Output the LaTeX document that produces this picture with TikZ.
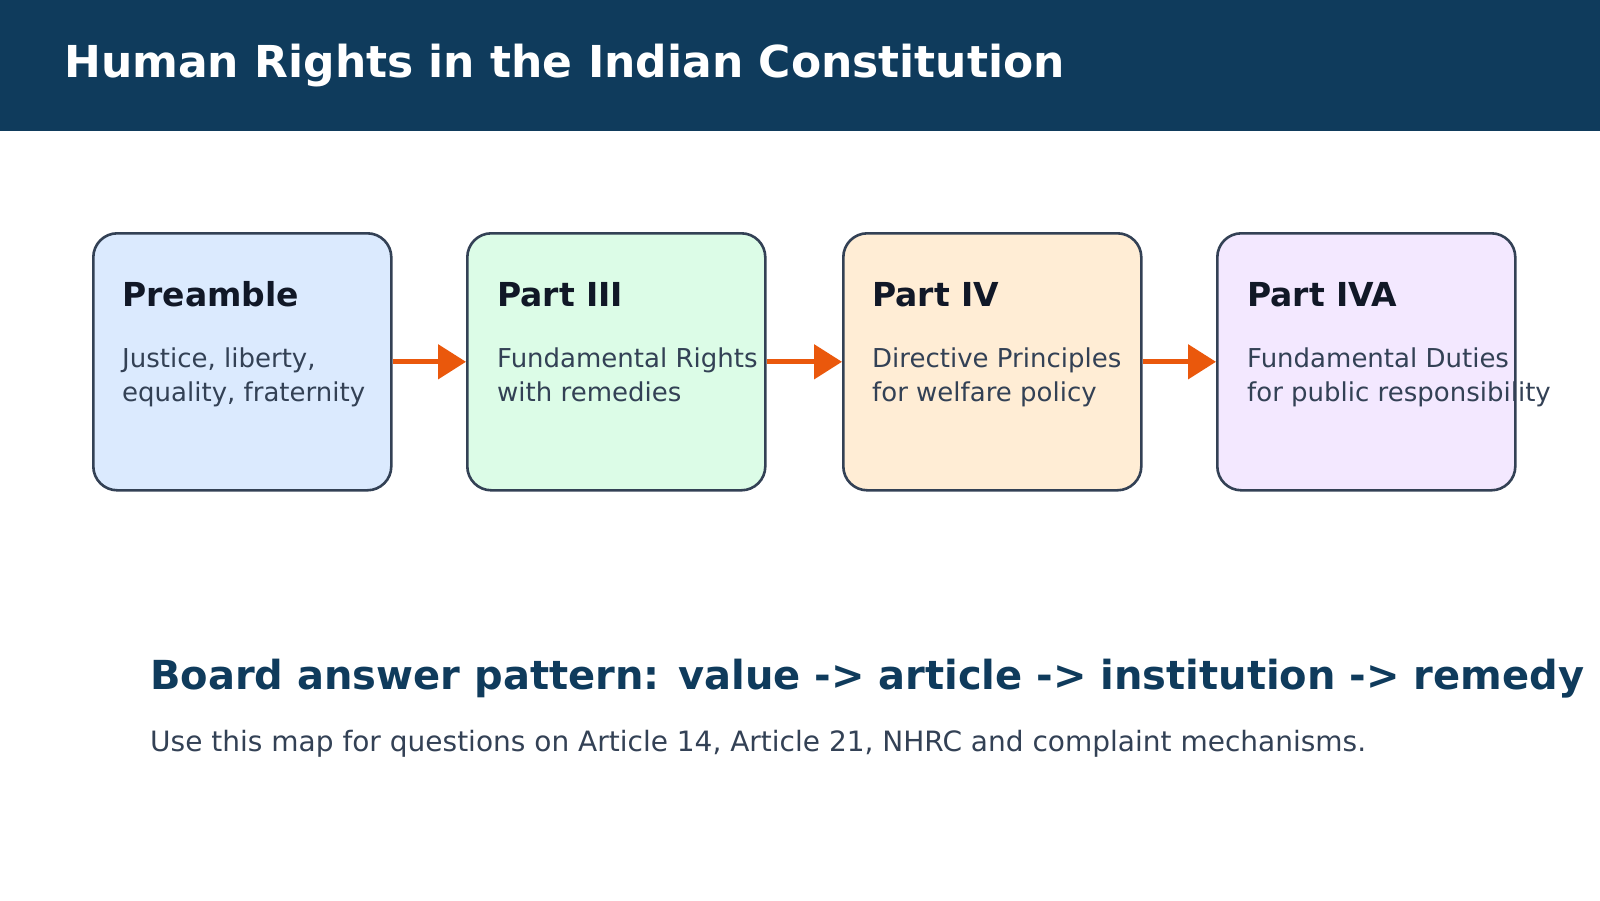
\documentclass[tikz,border=0pt]{standalone}
\usepackage{fontspec}
\setmainfont{DejaVu Sans}
\usetikzlibrary{arrows.meta}
\definecolor{hdr}{HTML}{0F3B5C}
\definecolor{brd}{HTML}{334155}
\definecolor{ttl}{HTML}{111827}
\definecolor{org}{HTML}{EA580C}
\definecolor{f1}{HTML}{DBEAFE}
\definecolor{f2}{HTML}{DCFCE7}
\definecolor{f3}{HTML}{FFEDD5}
\definecolor{f4}{HTML}{F3E8FF}
\begin{document}
\begin{tikzpicture}[x=1pt,y=-1pt,
 box/.style={draw=brd,line width=2.6pt,rounded corners=24pt,minimum width=298pt,minimum height=257pt,anchor=north west,inner sep=0pt},
 bt/.style={anchor=base west,font=\bfseries\fontsize{33}{40}\selectfont,text=ttl,inner sep=0pt},
 bb/.style={anchor=base west,font=\fontsize{26}{34}\selectfont,text=brd,inner sep=0pt,align=left},
 arr/.style={draw=org,line width=5pt,-{Triangle[length=28pt,width=34pt]}}]
\useasboundingbox[clip] (0,0) rectangle (1600,900);
\fill[white] (0,0) rectangle (1600,900);
\fill[hdr] (0,0) rectangle (1600,131);
\node[anchor=base west,inner sep=0pt,text=white,font=\bfseries\fontsize{44}{50}\selectfont] (h) at (64,77) {Human Rights in the Indian Constitution};
\node[box,fill=f1] (b1) at (92,232) {};
\node[box,fill=f2] (b2) at (466,232) {};
\node[box,fill=f3] (b3) at (842,232) {};
\node[box,fill=f4] (b4) at (1216,232) {};
\foreach \b/\x/\t/\l/\m in {1/122/Preamble/{Justice, liberty,}/{equality, fraternity},2/497/Part III/Fundamental Rights/with remedies,3/872/Part IV/Directive Principles/for welfare policy,4/1247/Part IVA/Fundamental Duties/for public responsibility}{
 \node[bt] (t\b) at (\x,306) {\t};
 \node[bb] (la\b) at (\x,367) {\l};
 \node[bb] (lb\b) at (\x,401) {\m};
}
\draw[arr] (b1.east) -- (b2.west);
\draw[arr] (b2.east) -- (b3.west);
\draw[arr] (b3.east) -- (b4.west);
\node[anchor=base west,inner sep=0pt,text=hdr,font=\bfseries\fontsize{40}{48}\selectfont] (bt) at (150,689) {Board answer pattern: value -> article -> institution -> remedy};
\node[anchor=base west,inner sep=0pt,text=brd,font=\fontsize{28}{34}\selectfont] (bs) at (150,751) {Use this map for questions on Article 14, Article 21, NHRC and complaint mechanisms.};
\end{tikzpicture}
\end{document}
